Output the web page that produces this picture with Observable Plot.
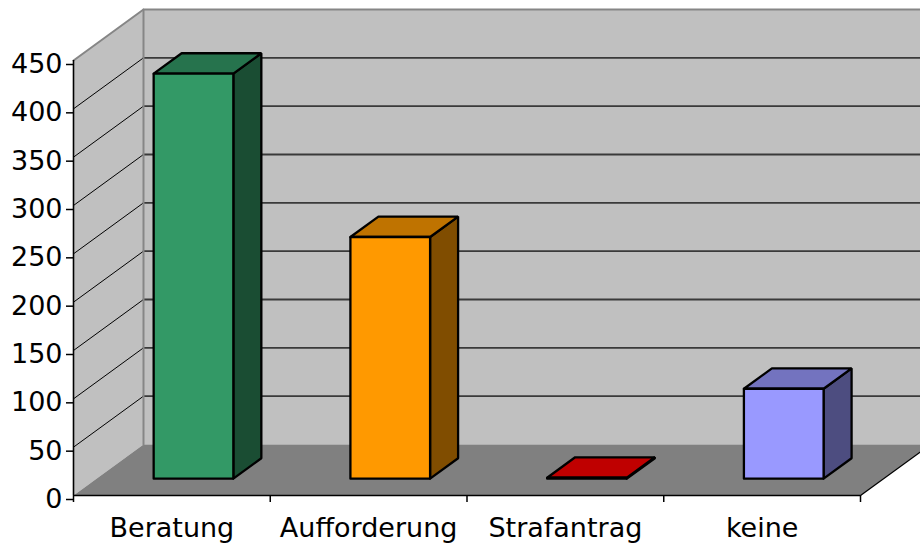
<!DOCTYPE html>
<html>
<head>
<meta charset="utf-8">
<script src="https://cdn.jsdelivr.net/npm/d3@7"></script>
<script src="https://cdn.jsdelivr.net/npm/@observablehq/plot@0.6"></script>
<style>
  body { margin: 0; background: #fff; }
  #chart svg { max-width: none !important; display: block; }
</style>
</head>
<body>
<div id="chart"></div>
<script>
// Measures, by outcome
const categories = ["Beratung", "Aufforderung", "Strafantrag", "keine"];
const counts = [419, 250, 1, 93];
const barColors = ["#339966", "#FF9900", "#FF0000", "#9999FF"];
const yTicks = [0, 50, 100, 150, 200, 250, 300, 350, 400, 450];
const gridValues = [50, 100, 150, 200, 250, 300, 350, 400];

const W = 920, H = 545;
const M = {top: 60, right: 60, bottom: 50, left: 73};
const yMax = 450, nCat = categories.length;

// Oblique 3D projection: depth d in [0,1] shifts a point right and up.
const pxPerCat = (W - M.left - M.right) / nCat;
const pxPerVal = (H - M.top - M.bottom) / yMax;
const depthPx = {x: 70, y: 51};
const DX = depthPx.x / pxPerCat, DY = depthPx.y / pxPerVal;
const project = ([c, v, d]) => ({x: c + d * DX, y: v + d * DY});

// Turn a list of 3D corners into a closed outline for Plot.line
function outline(id, fill, stroke, corners, closed = true) {
  const pts = closed ? corners.concat([corners[0]]) : corners;
  return pts.map(p => ({id, fill, stroke, ...project(p)}));
}

// Chart box: side wall, back wall, floor
const walls = [
  ...outline("left", "#c0c0c0", "none", [[0, 0, 0], [0, 0, 1], [0, yMax, 1], [0, yMax, 0]]),
  ...outline("back", "#c0c0c0", "none", [[0, 0, 1], [nCat, 0, 1], [nCat, yMax, 1], [0, yMax, 1]]),
  ...outline("floor", "#808080", "none", [[0, 0, 0], [nCat, 0, 0], [nCat, 0, 1], [0, 0, 1]])
];

const sideGrid = gridValues.flatMap(v => outline("s" + v, "none", "#000", [[0, v, 0], [0, v, 1]], false));
const backGrid = gridValues.flatMap(v => outline("b" + v, "none", "#3a3a3a", [[0, v, 1], [nCat, v, 1]], false));
const wallEdges = [
  ...outline("e1", "none", "#868686", [[0, 0, 1], [0, yMax, 1], [nCat, yMax, 1]], false),
  ...outline("e2", "none", "#868686", [[0, yMax, 0], [0, yMax, 1]], false)
];
const floorEdge = outline("fe", "none", "#000", [[nCat, 0, 0], [nCat, 0, 1]], false);

// Columns: front, top and right side faces
const shade = (c, k) => { const r = d3.rgb(c); return d3.rgb(r.r * k, r.g * k, r.b * k).formatHex(); };
const d0 = 0.33, d1 = 0.73;
const bars = categories.flatMap((cat, i) => {
  const x0 = i + 0.29, x1 = i + 0.695, v = counts[i], c = barColors[i];
  return [
    ...outline(cat + "-side", shade(c, 0.5), "#000", [[x1, 0, d0], [x1, 0, d1], [x1, v, d1], [x1, v, d0]]),
    ...outline(cat + "-top", shade(c, 0.75), "#000", [[x0, v, d0], [x1, v, d0], [x1, v, d1], [x0, v, d1]]),
    ...outline(cat + "-front", c, "#000", [[x0, 0, d0], [x1, 0, d0], [x1, v, d0], [x0, v, d0]])
  ];
});

const boundaries = d3.range(nCat + 1);
const centers = categories.map((_, i) => i + 0.5);

const chart = Plot.plot({
  width: W,
  height: H,
  marginTop: M.top,
  marginRight: M.right,
  marginBottom: M.bottom,
  marginLeft: M.left,
  x: {type: "linear", domain: [0, nCat]},
  y: {type: "linear", domain: [0, yMax]},
  color: {type: "identity"},
  style: {fontFamily: "DejaVu Sans, Verdana, sans-serif", fontSize: "27px", color: "#000", background: "#fff"},
  marks: [
    Plot.line(walls, {x: "x", y: "y", z: "id", fill: "fill", stroke: "stroke", curve: "linear"}),
    Plot.line(sideGrid, {x: "x", y: "y", z: "id", stroke: "stroke", strokeWidth: 1, curve: "linear"}),
    Plot.line(backGrid, {x: "x", y: "y", z: "id", stroke: "stroke", strokeWidth: 1.8, curve: "linear"}),
    Plot.line(wallEdges, {x: "x", y: "y", z: "id", stroke: "stroke", strokeWidth: 2, curve: "linear"}),
    Plot.line(floorEdge, {x: "x", y: "y", z: "id", stroke: "stroke", strokeWidth: 1.2, curve: "linear"}),
    Plot.line(bars, {x: "x", y: "y", z: "id", fill: "fill", stroke: "stroke", strokeWidth: 2.3, strokeLinejoin: "miter", curve: "linear"}),
    Plot.ruleX([0], {y1: 0, y2: yMax, stroke: "#000", strokeWidth: 1.6}),
    Plot.ruleY([0], {x1: 0, x2: nCat, stroke: "#000", strokeWidth: 1.6}),
    Plot.axisY({ticks: yTicks, tickSize: 7, tickPadding: 4, dy: 4, label: null, stroke: "#000", strokeWidth: 1.5}),
    Plot.axisX({ticks: boundaries, tickSize: 7, tickFormat: () => "", label: null, stroke: "#000", strokeWidth: 1.5}),
    Plot.axisX({ticks: centers, tickSize: 0, tickPadding: 22, tickFormat: d => categories[Math.floor(d)], label: null})
  ]
});

document.getElementById("chart").append(chart);
</script>
</body>
</html>
